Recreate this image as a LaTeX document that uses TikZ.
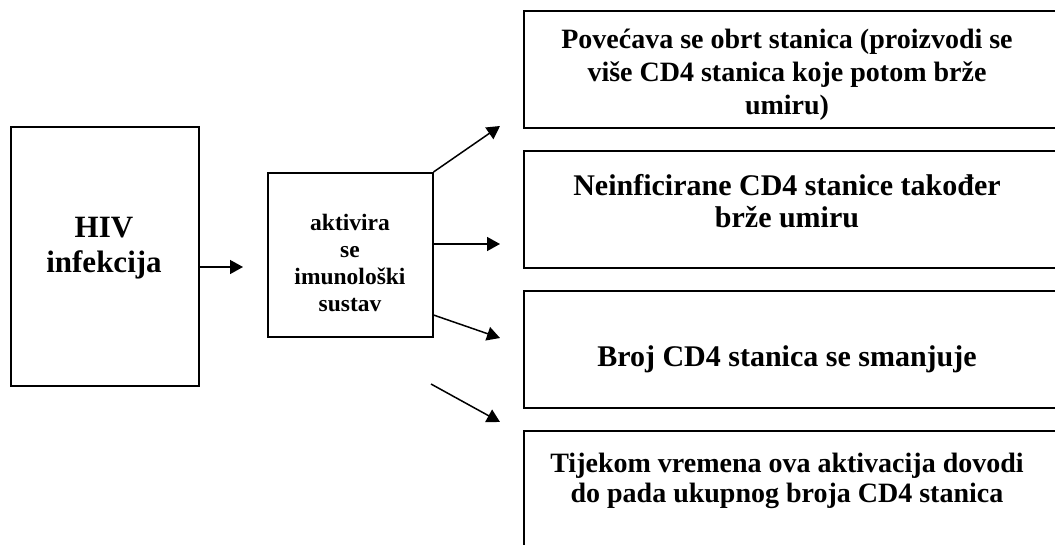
\documentclass[tikz,border=0pt]{standalone}
\usepackage{fontspec}
\setmainfont{Liberation Serif}
\usetikzlibrary{arrows.meta}
\begin{document}
\begin{tikzpicture}[x=1pt,y=-1pt,
  box/.style={draw, line width=1.5pt, inner sep=0pt, anchor=north west},
  lbl/.style={align=center, inner sep=0pt},
  arr/.style={line width=1.5pt, -{Triangle[length=13pt,width=14pt]}}]
\useasboundingbox (0,0) rectangle (1055,544);
\clip (0,0) rectangle (1055,544);
% boxes
\node[box, minimum width=188pt, minimum height=259pt] (hiv) at (10,126) {};
\node[box, minimum width=165pt, minimum height=164pt] (act) at (267,172) {};
\node[box, minimum width=540pt, minimum height=117pt] (b1) at (523,10) {};
\node[box, minimum width=540pt, minimum height=117pt] (b2) at (523,150) {};
\node[box, minimum width=540pt, minimum height=117pt] (b3) at (523,290) {};
\node[box, minimum width=540pt, minimum height=150pt] (b4) at (523,430) {};
% texts
\node[lbl, font=\bfseries\fontsize{31}{35}\selectfont] (thiv) at (104,248) {HIV\\infekcija};
\node[lbl, font=\bfseries\fontsize{23.5}{27}\selectfont] (tact) at (350,263) {aktivira\\se\\imunološki\\sustav};
\node[lbl, font=\bfseries\fontsize{28}{33}\selectfont] (t1) at (787,75) {Povećava se obrt stanica (proizvodi se\\više CD4 stanica koje potom brže\\umiru)};
\node[lbl, font=\bfseries\fontsize{30}{32}\selectfont] (t2) at (787,201) {Neinficirane CD4 stanice također\\brže umiru};
\node[lbl, font=\bfseries\fontsize{30}{32}\selectfont] (t3) at (787,359.5) {Broj CD4 stanica se smanjuje};
\node[lbl, font=\bfseries\fontsize{28}{30}\selectfont] (t4) at (787,481) {Tijekom vremena ova aktivacija dovodi\\do pada ukupnog broja CD4 stanica};
% connectors
\coordinate (a0) at (243,267);
\coordinate (e1) at (500,126);
\coordinate (e2) at (500,244);
\coordinate (s3) at (432,315);
\coordinate (e3) at (500,338);
\coordinate (s4) at (431,384);
\coordinate (e4) at (500,422);
\draw[arr] (hiv.east |- a0) -- (a0);
\draw[arr] (act.north east) -- (e1);
\draw[arr] (act.east |- e2) -- (e2);
\draw[arr] (act.east |- s3) -- (e3);
\draw[arr] (s4) -- (e4);
\end{tikzpicture}
\end{document}
